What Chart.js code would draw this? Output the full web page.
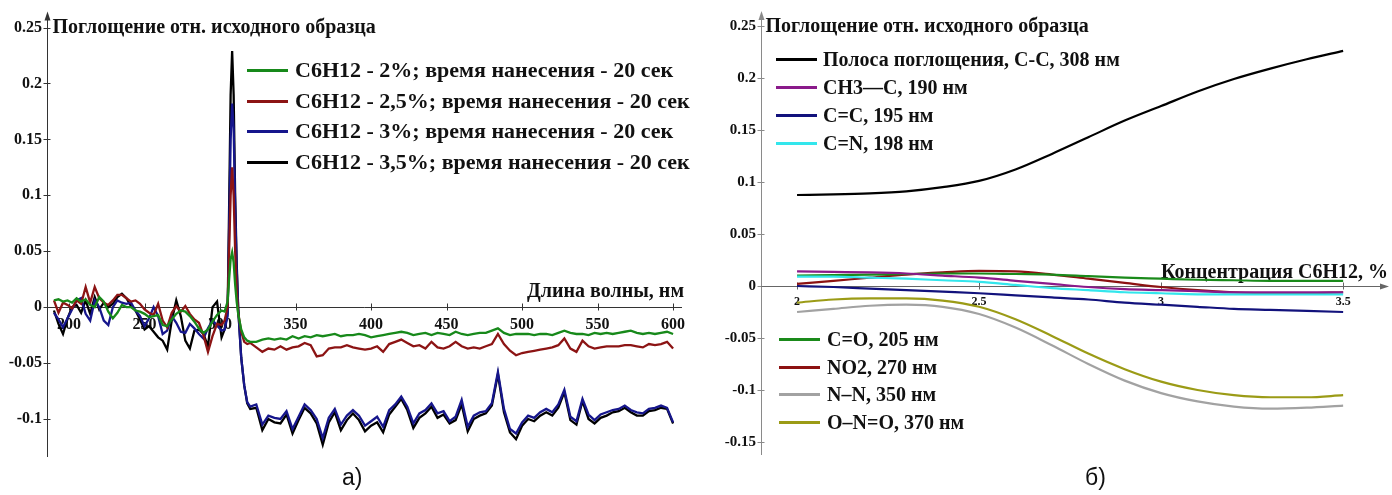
<!DOCTYPE html>
<html>
<head>
<meta charset="utf-8">
<script src="https://cdn.jsdelivr.net/npm/chart.js@4.4.1/dist/chart.umd.min.js"></script>
<style>
  html, body { margin: 0; padding: 0; background: #fff; }
  body { width: 1392px; height: 495px; position: relative; overflow: hidden; }
  canvas { position: absolute; top: 0; }
  #spectra { left: 0; }
  #bands { left: 700px; }
  .cap { position: absolute; top: 466px; line-height: 1; font-family: "Liberation Sans", Arial, sans-serif; font-size: 23px; color: #111; }
</style>
</head>
<body>
<canvas id="spectra" width="695" height="495"></canvas>
<canvas id="bands" width="692" height="495"></canvas>
<div class="cap" style="left:342px">а)</div>
<div class="cap" style="left:1085px">б)</div>
<script>
// ---- Panel a: difference absorption spectra, wavelength (nm) ----
const wavelengthNm = [
  190,193,196,199,202,205,208,211,214,217,220,223,226,229,232,235,238,241,244,247,
  250,253,256,259,262,265,268,271,274,277,280,283,286,289,292,295,298,301,
  303,305,306,307,308,309,310,311,312,314,316,318,
  320,324,328,332,336,340,344,348,352,356,360,364,368,372,376,380,384,388,392,396,
  400,404,408,412,416,420,424,428,432,436,440,444,448,452,456,460,464,468,472,476,
  480,484,488,492,496,500,504,508,512,516,520,524,528,532,536,540,544,548,552,556,
  560,564,568,572,576,580,584,588,592,596,600
];

const conc2 = [
  0.006,0.007,0.005,0.006,0.004,0.008,0.005,0.007,0.002,0.000,0.009,0.005,-0.004,-0.010,-0.005,0.002,0.000,0.000,-0.003,-0.004,
  -0.006,-0.009,-0.008,-0.007,-0.016,-0.017,-0.011,-0.006,-0.003,-0.004,-0.008,-0.013,-0.019,-0.023,-0.020,-0.013,-0.007,-0.003,
  -0.004,0.005,0.025,0.043,0.049,0.040,0.020,0.005,-0.006,-0.020,-0.027,-0.030,
  -0.031,-0.031,-0.029,-0.028,-0.029,-0.028,-0.029,-0.026,-0.028,-0.026,-0.027,-0.025,-0.026,-0.025,-0.024,-0.026,-0.025,-0.025,-0.024,-0.025,
  -0.027,-0.026,-0.025,-0.024,-0.023,-0.022,-0.023,-0.025,-0.024,-0.023,-0.025,-0.023,-0.024,-0.025,-0.022,-0.024,-0.025,-0.024,-0.023,-0.023,
  -0.021,-0.019,-0.023,-0.025,-0.024,-0.024,-0.024,-0.025,-0.024,-0.024,-0.025,-0.023,-0.021,-0.023,-0.024,-0.024,-0.025,-0.023,-0.024,-0.023,
  -0.024,-0.023,-0.022,-0.021,-0.023,-0.024,-0.023,-0.024,-0.023,-0.022,-0.024
];

const conc25 = [
  0.006,-0.005,0.004,0.002,-0.001,0.006,0.003,0.018,0.004,0.018,0.008,0.004,0.002,0.006,0.011,0.011,0.008,0.005,0.006,0.003,
  -0.002,-0.005,-0.007,0.003,-0.012,-0.018,-0.005,0.001,-0.004,0.001,-0.006,-0.011,-0.014,-0.025,-0.040,-0.026,-0.015,-0.016,
  -0.012,0.000,0.050,0.100,0.125,0.100,0.050,0.015,-0.005,-0.022,-0.031,-0.033,
  -0.032,-0.036,-0.040,-0.037,-0.038,-0.035,-0.038,-0.036,-0.035,-0.032,-0.034,-0.044,-0.043,-0.037,-0.036,-0.036,-0.034,-0.036,-0.037,-0.038,
  -0.037,-0.035,-0.040,-0.033,-0.031,-0.029,-0.032,-0.035,-0.034,-0.037,-0.031,-0.036,-0.037,-0.035,-0.031,-0.035,-0.037,-0.036,-0.037,-0.035,
  -0.033,-0.024,-0.033,-0.039,-0.043,-0.041,-0.040,-0.039,-0.038,-0.037,-0.036,-0.034,-0.028,-0.037,-0.040,-0.030,-0.035,-0.037,-0.036,-0.035,
  -0.035,-0.035,-0.034,-0.034,-0.035,-0.036,-0.033,-0.034,-0.033,-0.031,-0.037
];

const conc3 = [
  -0.005,-0.011,-0.018,-0.010,-0.002,0.006,0.008,-0.006,-0.012,0.006,0.000,-0.012,-0.016,0.000,0.006,0.004,0.003,0.004,-0.003,-0.008,
  -0.017,-0.010,0.000,-0.008,-0.024,-0.021,-0.008,-0.014,-0.022,-0.023,-0.015,-0.019,-0.024,-0.028,-0.019,-0.012,-0.016,-0.021,
  -0.020,-0.008,0.070,0.150,0.182,0.160,0.090,0.035,-0.002,-0.045,-0.070,-0.085,
  -0.089,-0.087,-0.105,-0.097,-0.099,-0.100,-0.093,-0.109,-0.098,-0.087,-0.092,-0.100,-0.117,-0.099,-0.091,-0.105,-0.097,-0.092,-0.097,-0.106,
  -0.102,-0.098,-0.107,-0.092,-0.087,-0.080,-0.089,-0.104,-0.095,-0.092,-0.086,-0.095,-0.093,-0.102,-0.098,-0.083,-0.107,-0.097,-0.094,-0.093,
  -0.086,-0.058,-0.091,-0.109,-0.113,-0.103,-0.097,-0.099,-0.094,-0.091,-0.094,-0.087,-0.074,-0.098,-0.102,-0.082,-0.096,-0.101,-0.096,-0.094,
  -0.092,-0.091,-0.088,-0.092,-0.094,-0.095,-0.091,-0.090,-0.088,-0.090,-0.103
];

const conc35 = [
  -0.003,-0.015,-0.024,-0.010,0.000,0.002,-0.005,0.006,-0.006,0.009,-0.002,0.004,0.000,0.003,0.009,0.012,0.008,0.001,-0.003,-0.011,
  -0.020,-0.017,-0.022,-0.027,-0.030,-0.038,-0.012,0.006,-0.008,-0.030,-0.037,-0.021,-0.020,-0.024,-0.035,0.000,0.005,-0.027,
  -0.020,-0.005,0.090,0.190,0.229,0.190,0.100,0.040,0.000,-0.045,-0.070,-0.086,
  -0.091,-0.090,-0.110,-0.100,-0.103,-0.104,-0.096,-0.113,-0.101,-0.090,-0.095,-0.104,-0.123,-0.103,-0.094,-0.110,-0.101,-0.095,-0.101,-0.111,
  -0.106,-0.103,-0.112,-0.096,-0.089,-0.082,-0.092,-0.108,-0.099,-0.095,-0.089,-0.099,-0.096,-0.104,-0.101,-0.087,-0.111,-0.100,-0.097,-0.095,
  -0.088,-0.060,-0.094,-0.112,-0.118,-0.106,-0.100,-0.102,-0.097,-0.094,-0.097,-0.090,-0.076,-0.101,-0.105,-0.084,-0.100,-0.104,-0.099,-0.097,
  -0.094,-0.093,-0.090,-0.094,-0.097,-0.097,-0.093,-0.092,-0.090,-0.091,-0.104
];

const spectraLabels = [
  'С6Н12 - 2%; время нанесения - 20 сек',
  'С6Н12 - 2,5%; время нанесения - 20 сек',
  'С6Н12 - 3%; время нанесения - 20 сек',
  'С6Н12 - 3,5%; время нанесения - 20 сек'
];

// ---- Panel б: band intensity vs. cyclohexane concentration (%) ----
const concentration = [2.0,2.1,2.2,2.3,2.4,2.5,2.6,2.7,2.8,2.9,3.0,3.1,3.2,3.3,3.4,3.5];
const bandCC308  = [0.0875,0.088,0.089,0.091,0.095,0.101,0.112,0.127,0.143,0.159,0.173,0.187,0.199,0.209,0.218,0.226];
const bandCH3C190 = [0.014,0.0135,0.013,0.012,0.010,0.008,0.005,0.002,-0.001,-0.003,-0.004,-0.005,-0.006,-0.006,-0.006,-0.006];
const bandCC195  = [0.000,-0.001,-0.0025,-0.004,-0.0055,-0.007,-0.009,-0.011,-0.013,-0.016,-0.018,-0.020,-0.022,-0.023,-0.024,-0.025];
const bandCN198  = [0.009,0.009,0.008,0.007,0.0055,0.004,0.001,-0.002,-0.004,-0.006,-0.007,-0.008,-0.008,-0.008,-0.008,-0.008];
const bandCO205  = [0.010,0.0105,0.011,0.0115,0.012,0.012,0.0115,0.011,0.0095,0.008,0.007,0.006,0.0055,0.005,0.005,0.005];
const bandNO2270 = [0.002,0.005,0.008,0.011,0.013,0.0145,0.014,0.011,0.007,0.003,-0.001,-0.004,-0.006,-0.007,-0.007,-0.006];
const bandNN350  = [-0.025,-0.022,-0.019,-0.018,-0.020,-0.027,-0.040,-0.057,-0.075,-0.091,-0.103,-0.111,-0.116,-0.118,-0.117,-0.115];
const bandONO370 = [-0.016,-0.013,-0.012,-0.012,-0.014,-0.020,-0.032,-0.048,-0.065,-0.080,-0.092,-0.100,-0.105,-0.107,-0.107,-0.105];

const bandLabels = [
  'Полоса поглощения, С-С, 308 нм',
  'CH3—C, 190 нм',
  'C=C, 195 нм',
  'C=N, 198 нм',
  'C=O, 205 нм',
  'NO2, 270 нм',
  'N–N, 350 нм',
  'O–N=O, 370 нм'
];

const SERIF = '"Liberation Serif", "Times New Roman", serif';

function toPoints(xs, ys) { return xs.map((x, i) => ({ x: x, y: ys[i] })); }

// tick text without trailing zeros: 0.2, 0.15, 2, 2.5
function shortNumber(v) { return String(Math.round(v * 1000) / 1000); }

// Crossing axes with arrow heads, axis titles and a hand-placed legend
const axisDecor = {
  id: 'axisDecor',
  beforeDatasetsDraw(chart, args, o) {
    const { ctx, chartArea: a, scales: { x, y } } = chart;
    const y0 = Math.round(y.getPixelForValue(0)) + 0.5;
    const x0 = Math.round(a.left) + 0.5;
    ctx.save();
    ctx.lineWidth = 1;
    // vertical axis
    ctx.strokeStyle = o.yAxisColor;
    ctx.fillStyle = o.yAxisColor;
    ctx.beginPath(); ctx.moveTo(x0, a.top); ctx.lineTo(x0, a.bottom); ctx.stroke();
    ctx.beginPath(); ctx.moveTo(x0, a.top - 3); ctx.lineTo(x0 - 3, a.top + 6); ctx.lineTo(x0 + 3, a.top + 6); ctx.closePath(); ctx.fill();
    y.ticks.forEach(t => {
      const py = Math.round(y.getPixelForValue(t.value)) + 0.5;
      ctx.beginPath(); ctx.moveTo(x0 - 4, py); ctx.lineTo(x0 + 3, py); ctx.stroke();
    });
    // horizontal axis through zero
    ctx.strokeStyle = o.xAxisColor;
    ctx.fillStyle = o.xAxisColor;
    ctx.beginPath(); ctx.moveTo(x0, y0); ctx.lineTo(a.right, y0); ctx.stroke();
    if (o.xArrow) {
      ctx.beginPath(); ctx.moveTo(a.right + 4, y0); ctx.lineTo(a.right - 5, y0 - 3); ctx.lineTo(a.right - 5, y0 + 3); ctx.closePath(); ctx.fill();
    }
    x.ticks.forEach(t => {
      const px = Math.round(x.getPixelForValue(t.value)) + 0.5;
      ctx.beginPath(); ctx.moveTo(px, y0 - 4); ctx.lineTo(px, y0 + 3); ctx.stroke();
    });
    // axis titles
    ctx.fillStyle = '#111';
    ctx.textBaseline = 'middle';
    ctx.font = 'bold ' + o.titleSize + 'px ' + SERIF;
    ctx.textAlign = 'left';
    ctx.fillText(o.yTitle, x0 + o.yTitleDx, a.top + o.yTitleDy);
    ctx.font = 'bold ' + o.xTitleSize + 'px ' + SERIF;
    ctx.textAlign = 'right';
    ctx.fillText(o.xTitle, a.right + o.xTitleDx, y0 + o.xTitleDy);
    // legend blocks
    o.legends.forEach(lg => {
      ctx.font = 'bold ' + lg.size + 'px ' + SERIF;
      ctx.textAlign = 'left';
      lg.items.forEach((di, k) => {
        const ds = chart.data.datasets[di];
        const ly = Math.round(lg.top + k * lg.step) + 0.5;
        ctx.strokeStyle = ds.borderColor;
        ctx.lineWidth = lg.lineWidth;
        ctx.beginPath(); ctx.moveTo(lg.x, ly); ctx.lineTo(lg.x + lg.len, ly); ctx.stroke();
        ctx.fillStyle = '#111';
        ctx.fillText(ds.label, lg.x + lg.len + lg.gap, ly + 1);
      });
    });
    ctx.restore();
  }
};

function tickFont(size) { return { family: SERIF, weight: 'bold', size: size }; }

// ---- chart a ----
new Chart(document.getElementById('spectra'), {
  type: 'line',
  data: {
    datasets: [
      { label: spectraLabels[0], data: toPoints(wavelengthNm, conc2),  borderColor: '#17891a' },
      { label: spectraLabels[1], data: toPoints(wavelengthNm, conc25), borderColor: '#8c1414' },
      { label: spectraLabels[2], data: toPoints(wavelengthNm, conc3),  borderColor: '#16168c' },
      { label: spectraLabels[3], data: toPoints(wavelengthNm, conc35), borderColor: '#000000' }
    ].map(d => Object.assign(d, { borderWidth: 2.3, pointRadius: 0, tension: 0, fill: false }))
  },
  options: {
    responsive: false, animation: false, events: [],
    layout: { padding: { left: 0, right: 13, top: 14, bottom: 38 } },
    plugins: {
      legend: { display: false }, tooltip: { enabled: false },
      axisDecor: {
        yAxisColor: '#333', xAxisColor: '#333', xArrow: false,
        yTitle: 'Поглощение отн. исходного образца', titleSize: 20, yTitleDx: 5, yTitleDy: 13,
        xTitle: 'Длина волны, нм', xTitleSize: 20, xTitleDx: 2, xTitleDy: -16,
        legends: [ { x: 247, top: 70, step: 30.7, len: 41, gap: 7, size: 22, lineWidth: 3, items: [0, 1, 2, 3] } ]
      }
    },
    scales: {
      x: {
        type: 'linear', position: { y: 0 }, min: 185.4, max: 605.9,
        grid: { display: false, drawTicks: false }, border: { display: false },
        ticks: { stepSize: 50, includeBounds: false, autoSkip: false, maxRotation: 0, padding: 8, color: '#111', font: tickFont(16), callback: shortNumber },
        afterFit: s => { s.height = 0; }
      },
      y: {
        type: 'linear', position: 'left', min: -0.134, max: 0.2616,
        grid: { display: false, drawTicks: false }, border: { display: false },
        ticks: { stepSize: 0.05, includeBounds: false, padding: 5, color: '#111', font: tickFont(16), callback: shortNumber },
        afterFit: s => { s.width = 47; }
      }
    }
  },
  plugins: [axisDecor]
});

// ---- chart б ----
new Chart(document.getElementById('bands'), {
  type: 'line',
  data: {
    datasets: [
      { label: bandLabels[0], data: toPoints(concentration, bandCC308),   borderColor: '#000000' },
      { label: bandLabels[1], data: toPoints(concentration, bandCH3C190), borderColor: '#8a1a8a' },
      { label: bandLabels[2], data: toPoints(concentration, bandCC195),   borderColor: '#12127c' },
      { label: bandLabels[3], data: toPoints(concentration, bandCN198),   borderColor: '#33e6ec' },
      { label: bandLabels[4], data: toPoints(concentration, bandCO205),   borderColor: '#1a8a1a' },
      { label: bandLabels[5], data: toPoints(concentration, bandNO2270),  borderColor: '#8c1212' },
      { label: bandLabels[6], data: toPoints(concentration, bandNN350),   borderColor: '#a2a2a2' },
      { label: bandLabels[7], data: toPoints(concentration, bandONO370),  borderColor: '#9b9b16' }
    ].map(d => Object.assign(d, { borderWidth: 2.2, pointRadius: 0, cubicInterpolationMode: 'monotone', fill: false }))
  },
  options: {
    responsive: false, animation: false, events: [],
    layout: { padding: { left: 0, right: 7, top: 14, bottom: 40 } },
    plugins: {
      legend: { display: false }, tooltip: { enabled: false },
      axisDecor: {
        yAxisColor: '#8a8a8a', xAxisColor: '#666', xArrow: true,
        yTitle: 'Поглощение отн. исходного образца', titleSize: 20, yTitleDx: 4, yTitleDy: 13,
        xTitle: 'Концентрация С6Н12, %', xTitleSize: 20, xTitleDx: 3, xTitleDy: -14,
        legends: [
          { x: 76, top: 59, step: 28, len: 41, gap: 6, size: 20, lineWidth: 3, items: [0, 1, 2, 3] },
          { x: 79, top: 339, step: 27.7, len: 41, gap: 7, size: 20, lineWidth: 3, items: [4, 5, 6, 7] }
        ]
      }
    },
    scales: {
      x: {
        type: 'linear', position: { y: 0 }, min: 1.901, max: 3.615,
        grid: { display: false, drawTicks: false }, border: { display: false },
        ticks: { stepSize: 0.5, includeBounds: false, autoSkip: false, maxRotation: 0, padding: 9, color: '#111', font: tickFont(12), callback: shortNumber },
        afterFit: s => { s.height = 0; }
      },
      y: {
        type: 'linear', position: 'left', min: -0.1625, max: 0.2615,
        grid: { display: false, drawTicks: false }, border: { display: false },
        ticks: { stepSize: 0.05, includeBounds: false, padding: 5, color: '#111', font: tickFont(15), callback: shortNumber },
        afterFit: s => { s.width = 61; }
      }
    }
  },
  plugins: [axisDecor]
});
</script>
</body>
</html>
